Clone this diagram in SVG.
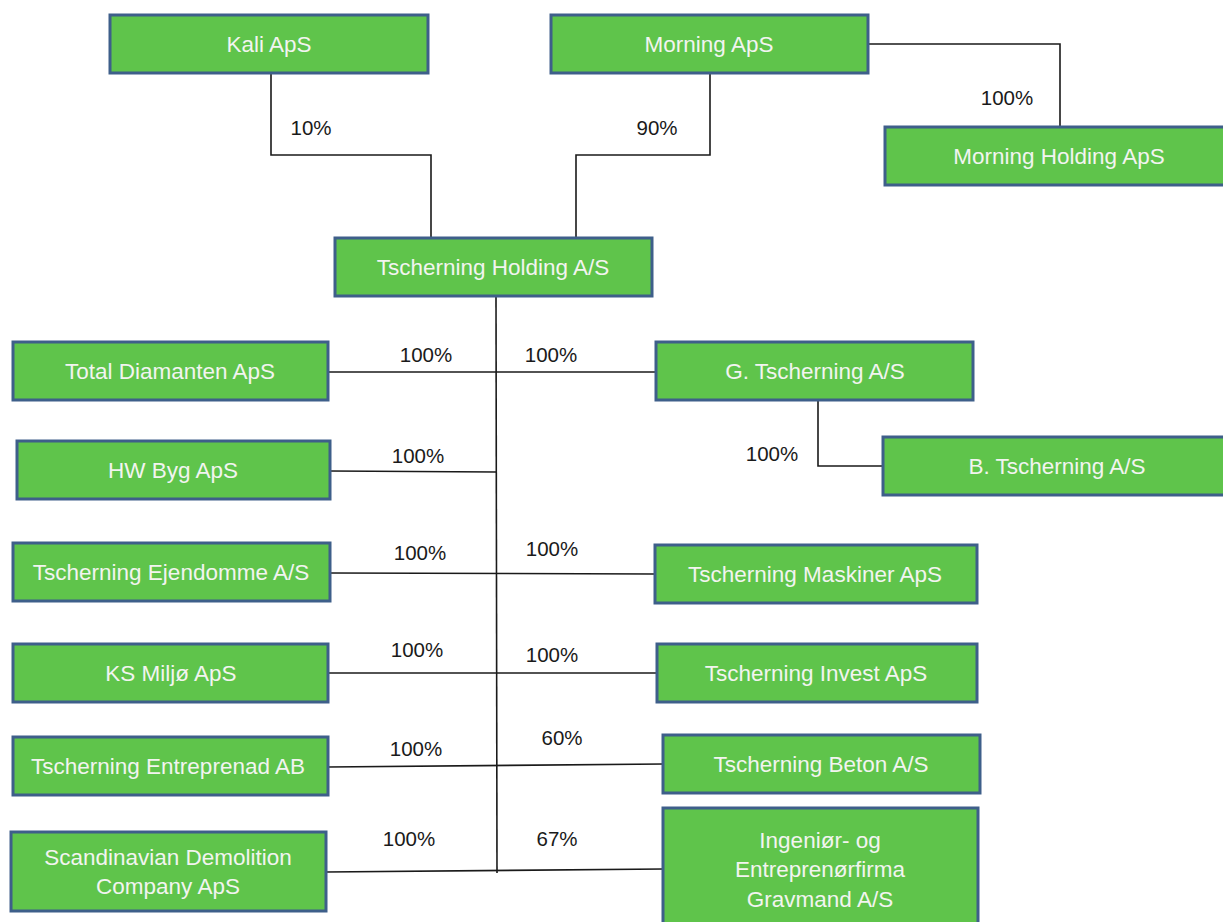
<svg xmlns="http://www.w3.org/2000/svg" width="1223" height="922" viewBox="0 0 1223 922">
<style>
.box{fill:#5fc44b;stroke:#3e5f8a;stroke-width:3}
.t{font-family:"Liberation Sans",Arial,sans-serif;font-size:22.5px;fill:#f2f4f0;text-anchor:middle}
.l{font-family:"Liberation Sans",Arial,sans-serif;font-size:20.5px;fill:#1a1a1a;text-anchor:middle}
.c{fill:none;stroke:#1a1a1a;stroke-width:1.6}
</style>
<rect width="1223" height="922" fill="#ffffff"/>
<g id="connectors">
<polyline class="c" points="271,73 271,155 431,155 431,238"/>
<polyline class="c" points="710,73 710,155 576,155 576,238"/>
<polyline class="c" points="868,44 1060,44 1060,127"/>
<line class="c" x1="496" y1="296" x2="497" y2="873"/>
<line class="c" x1="328" y1="372" x2="656" y2="372"/>
<line class="c" x1="330" y1="471" x2="496" y2="472"/>
<line class="c" x1="330" y1="573" x2="655" y2="574"/>
<line class="c" x1="328" y1="673" x2="657" y2="673"/>
<line class="c" x1="328" y1="767" x2="663" y2="764"/>
<line class="c" x1="326" y1="872" x2="663" y2="869"/>
<polyline class="c" points="818,400 818,466 883,466"/>
</g>
<g id="labels">
<text class="l" x="311" y="135">10%</text>
<text class="l" x="657" y="135">90%</text>
<text class="l" x="1007" y="105">100%</text>
<text class="l" x="426" y="362">100%</text>
<text class="l" x="551" y="362">100%</text>
<text class="l" x="772" y="461">100%</text>
<text class="l" x="418" y="463">100%</text>
<text class="l" x="420" y="560">100%</text>
<text class="l" x="552" y="556">100%</text>
<text class="l" x="417" y="657">100%</text>
<text class="l" x="552" y="662">100%</text>
<text class="l" x="416" y="756">100%</text>
<text class="l" x="562" y="745">60%</text>
<text class="l" x="409" y="846">100%</text>
<text class="l" x="557" y="846">67%</text>
</g>
<g id="kali"><rect class="box" x="110" y="15" width="318" height="58"/><text class="t" x="269" y="52">Kali ApS</text></g>
<g id="morning"><rect class="box" x="551" y="15" width="317" height="58"/><text class="t" x="709" y="52">Morning ApS</text></g>
<g id="morning-holding"><rect class="box" x="885" y="127" width="340" height="58"/><text class="t" x="1059" y="164">Morning Holding ApS</text></g>
<g id="tscherning-holding"><rect class="box" x="335" y="238" width="317" height="58"/><text class="t" x="493" y="275">Tscherning Holding A/S</text></g>
<g id="total-diamanten"><rect class="box" x="13" y="342" width="315" height="58"/><text class="t" x="170" y="379">Total Diamanten ApS</text></g>
<g id="g-tscherning"><rect class="box" x="656" y="342" width="317" height="58"/><text class="t" x="815" y="379">G. Tscherning A/S</text></g>
<g id="b-tscherning"><rect class="box" x="883" y="437" width="342" height="58"/><text class="t" x="1057" y="474">B. Tscherning A/S</text></g>
<g id="hw-byg"><rect class="box" x="17" y="441" width="313" height="58"/><text class="t" x="173" y="478">HW Byg ApS</text></g>
<g id="ejendomme"><rect class="box" x="13" y="543" width="317" height="58"/><text class="t" x="171" y="580">Tscherning Ejendomme A/S</text></g>
<g id="maskiner"><rect class="box" x="655" y="545" width="322" height="58"/><text class="t" x="815" y="582">Tscherning Maskiner ApS</text></g>
<g id="ks-miljo"><rect class="box" x="13" y="644" width="315" height="58"/><text class="t" x="171" y="681">KS Miljø ApS</text></g>
<g id="invest"><rect class="box" x="657" y="644" width="320" height="58"/><text class="t" x="816" y="681">Tscherning Invest ApS</text></g>
<g id="entreprenad"><rect class="box" x="13" y="737" width="315" height="58"/><text class="t" x="168" y="774">Tscherning Entreprenad AB</text></g>
<g id="beton"><rect class="box" x="663" y="735" width="317" height="58"/><text class="t" x="821" y="772">Tscherning Beton A/S</text></g>
<g id="scandinavian"><rect class="box" x="11" y="832" width="315" height="79"/><text class="t" x="168" y="865">Scandinavian Demolition</text><text class="t" x="168" y="894">Company ApS</text></g>
<g id="gravmand"><rect class="box" x="663" y="808" width="315" height="120"/><text class="t" x="820" y="848">Ingeniør- og</text><text class="t" x="820" y="877">Entreprenørfirma</text><text class="t" x="820" y="907">Gravmand A/S</text></g>
</svg>
